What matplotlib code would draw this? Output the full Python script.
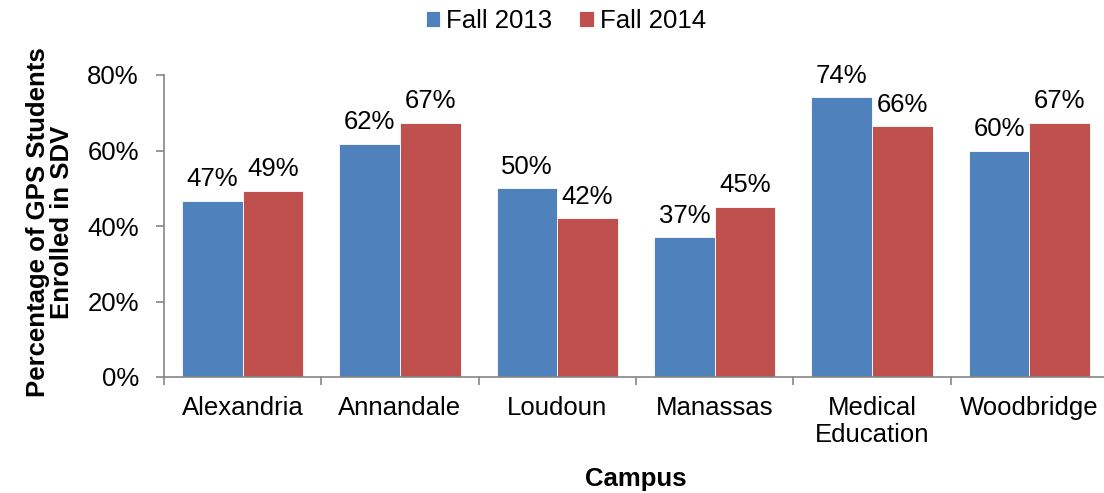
import numpy as np
from matplotlib import pyplot as plt
from matplotlib.ticker import FixedLocator, PercentFormatter

plt.rcParams['font.family'] = ['Liberation Sans', 'DejaVu Sans']

campuses = ['Alexandria', 'Annandale', 'Loudoun', 'Manassas', 'Medical\nEducation', 'Woodbridge']
fall_2013 = [0.466, 0.617, 0.500, 0.370, 0.741, 0.600]
fall_2014 = [0.494, 0.673, 0.420, 0.451, 0.664, 0.674]
labels_2013 = ['47%', '62%', '50%', '37%', '74%', '60%']
labels_2014 = ['49%', '67%', '42%', '45%', '66%', '67%']

W, H = 1104, 493
fs = 18.5
fig = plt.figure(figsize=(W / 100, H / 100), dpi=100)
ax = fig.add_axes([164 / W, 1 - 377 / H, (1108 - 164) / W, (377 - 75) / H])

x = np.arange(len(campuses))
bw = 0.385
blue = '#4F81BD'
red = '#C0504D'
b1 = ax.bar(x - bw / 2, fall_2013, bw, color=blue, edgecolor='white', linewidth=0.6, label='Fall 2013')
b2 = ax.bar(x + bw / 2, fall_2014, bw, color=red, edgecolor='white', linewidth=0.6, label='Fall 2014')

for bars, labs in [(b1, labels_2013), (b2, labels_2014)]:
    for rect, lab in zip(bars, labs):
        ax.annotate(lab, (rect.get_x() + rect.get_width() / 2, rect.get_height()),
                    xytext=(0, 7), textcoords='offset points', ha='center', va='bottom', fontsize=fs)

ax.set_xlim(-0.5, len(campuses) - 0.5)
ax.set_ylim(0, 0.8)
ax.set_yticks([0, 0.2, 0.4, 0.6, 0.8])
ax.yaxis.set_major_formatter(PercentFormatter(1.0, decimals=0))
ax.set_xticks(x)
ax.set_xticklabels(campuses, fontsize=fs, linespacing=1.15)
ax.xaxis.set_minor_locator(FixedLocator(np.arange(-0.5, len(campuses), 1.0)))
ax.tick_params(axis='x', which='major', length=0, pad=14)
ax.tick_params(axis='x', which='minor', length=6, color='#868686', width=1.2)
ax.tick_params(axis='y', length=6, color='#868686', width=1.2, labelsize=fs, pad=12)

for s in ['top', 'right']:
    ax.spines[s].set_visible(False)
for s in ['left', 'bottom']:
    ax.spines[s].set_color('#868686')
    ax.spines[s].set_linewidth(1.2)

fig.text(50 / W, 1 - 222 / H, 'Percentage of GPS Students\nEnrolled in SDV', rotation=90,
         ha='center', va='center', fontsize=fs, fontweight='bold', linespacing=1.0)
fig.text(636 / W, 1 - 479 / H, 'Campus', ha='center', va='center', fontsize=fs, fontweight='bold')

fig.legend(handles=[b1, b2], loc='center', bbox_to_anchor=(566 / W, 1 - 21 / H), ncol=2,
           frameon=False, fontsize=fs, handlelength=0.55, handleheight=0.55, handletextpad=0.25,
           columnspacing=1.05, borderpad=0, borderaxespad=0)

fig.savefig('out.png', dpi=100)
